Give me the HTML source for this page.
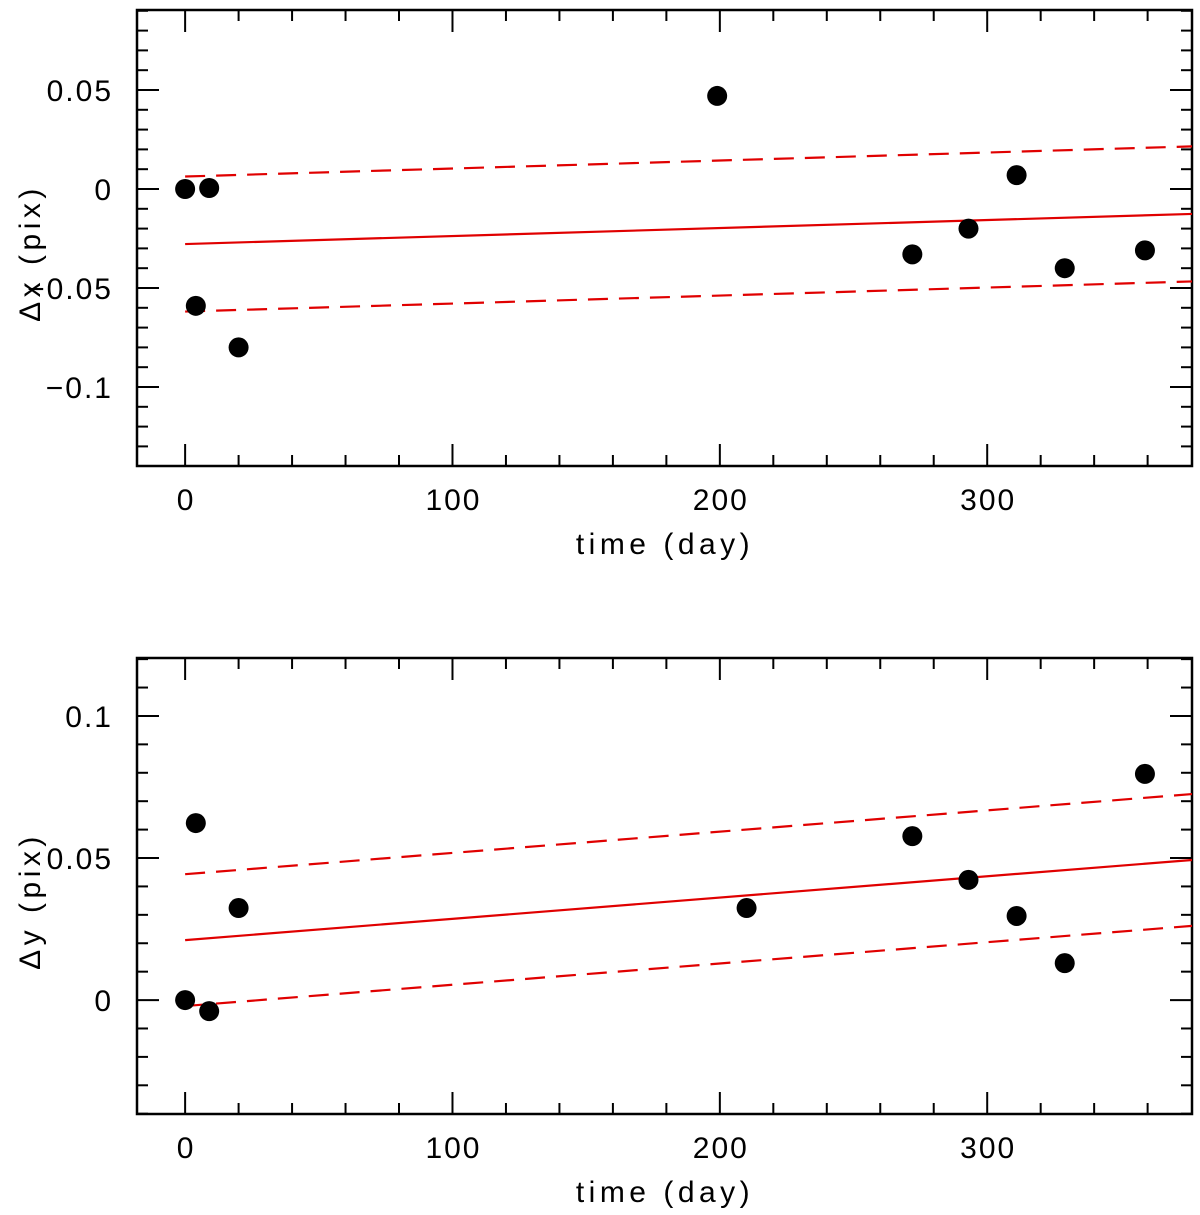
<!DOCTYPE html>
<html><head><meta charset="utf-8"><style>
body{margin:0;background:#fff}
svg text{font-family:"Liberation Sans",sans-serif;fill:#000}
</style></head><body>
<svg id="c" width="1200" height="1210" xmlns="http://www.w3.org/2000/svg"></svg>
<script>
const days = [0, 9, 4, 20, 199, 272, 293, 311, 329, 359];
const dxValues = [0, 0.0005, -0.059, -0.080, 0.047, -0.033, -0.020, 0.007, -0.040, -0.031];
const dyDays = [0, 4, 9, 20, 210, 272, 293, 311, 329, 359];
const dyValues = [0, 0.0623, -0.0039, 0.0324, 0.0324, 0.0577, 0.0423, 0.0296, 0.0130, 0.0796];
const dxFit = [-0.0278, 0.0000404, 0.0341];  // intercept, slope, band
const dyFit = [0.0211, 0.0000749, 0.0232];
const xTicks = [0, 100, 200, 300];
const dxTicks = [0.05, 0, -0.05, -0.1];
const dxTickLabels = ["0.05", "0", "\u22120.05", "\u22120.1"];
const dyTicks = [0.1, 0.05, 0];
const dyTickLabels = ["0.1", "0.05", "0"];

const svg = document.getElementById('c');
const NS = 'http://www.w3.org/2000/svg';
function mk(tag, attrs, parent){const e=document.createElementNS(NS,tag);for(const k in attrs)e.setAttribute(k,attrs[k]);(parent||svg).appendChild(e);return e;}

function panel(name, top, bottom, ymin, ymax, xs, ys, fit, ticks, tickLabels, ylabel){
  const L=137,R=1192,xmin=-18,xmax=376.6;
  const X=v=>L+(v-xmin)/(xmax-xmin)*(R-L);
  const Y=v=>bottom-(v-ymin)/(ymax-ymin)*(bottom-top);
  const g=mk('g',{});
  
  
  const fr=mk('rect',{x:L,y:top,width:R-L,height:bottom-top,fill:'none',stroke:'#000','stroke-width':2.5},g);
  
  
  for(let v=0;v<=xmax;v+=20){
    const len=(v%100===0)?22:11;
    mk('line',{x1:X(v),x2:X(v),y1:bottom,y2:bottom-len,stroke:'#000','stroke-width':2},g);
    mk('line',{x1:X(v),x2:X(v),y1:top,y2:top+len,stroke:'#000','stroke-width':2},g);
  }
  xTicks.forEach(v=>{
    const t=mk('text',{x:X(v)+1,y:bottom+44,'text-anchor':'middle','font-size':30,'letter-spacing':2},g);
    t.textContent=String(v);
    
    
  });
  const start=Math.ceil(ymin/0.01-1e-6);
  for(let i=start;i*0.01<=ymax+1e-9;i++){
    const v=i*0.01;const major=(Math.abs(i)%5===0);const len=major?22:11;
    mk('line',{x1:L,x2:L+len,y1:Y(v),y2:Y(v),stroke:'#000','stroke-width':2},g);
    mk('line',{x1:R,x2:R-len,y1:Y(v),y2:Y(v),stroke:'#000','stroke-width':2},g);
  }
  ticks.forEach((v,i)=>{
    const t=mk('text',{x:L-24,y:Y(v)+11,'text-anchor':'end','font-size':30,'letter-spacing':2},g);
    t.textContent=tickLabels[i];
    
    
  });
  const xt=mk('text',{x:665,y:bottom+88,'text-anchor':'middle','font-size':30,'letter-spacing':4.5},g);
  xt.textContent='time (day)';
  
  
  const yc=(top+bottom)/2+15;
  const yt=mk('text',{x:30,y:yc+10,'text-anchor':'middle','font-size':30,'letter-spacing':4.5,transform:`rotate(-90 30 ${yc})`},g);
  yt.textContent=ylabel;
  
  
  const f=v=>fit[0]+fit[1]*v;
  [[0,'none','fit-line'],[fit[2],'20 11','upper-bound'],[-fit[2],'20 11','lower-bound']].forEach(([o,d,n])=>{
    const l=mk('line',{x1:X(0),y1:Y(f(0)+o),x2:R,y2:Y(f(xmax)+o),stroke:'#e00000','stroke-width':2.2,'stroke-dasharray':d},g);
    
    
  });
  xs.forEach((v,i)=>{
    const c=mk('circle',{cx:X(v),cy:Y(ys[i]),r:10,fill:'#000'},g);
    
    
  });
}
panel('dx',10,466,-0.1399,0.0904,days,dxValues,dxFit,dxTicks,dxTickLabels,'\u0394x (pix)');
panel('dy',658,1114,-0.0401,0.1204,dyDays,dyValues,dyFit,dyTicks,dyTickLabels,'\u0394y (pix)');
</script>
</body></html>
